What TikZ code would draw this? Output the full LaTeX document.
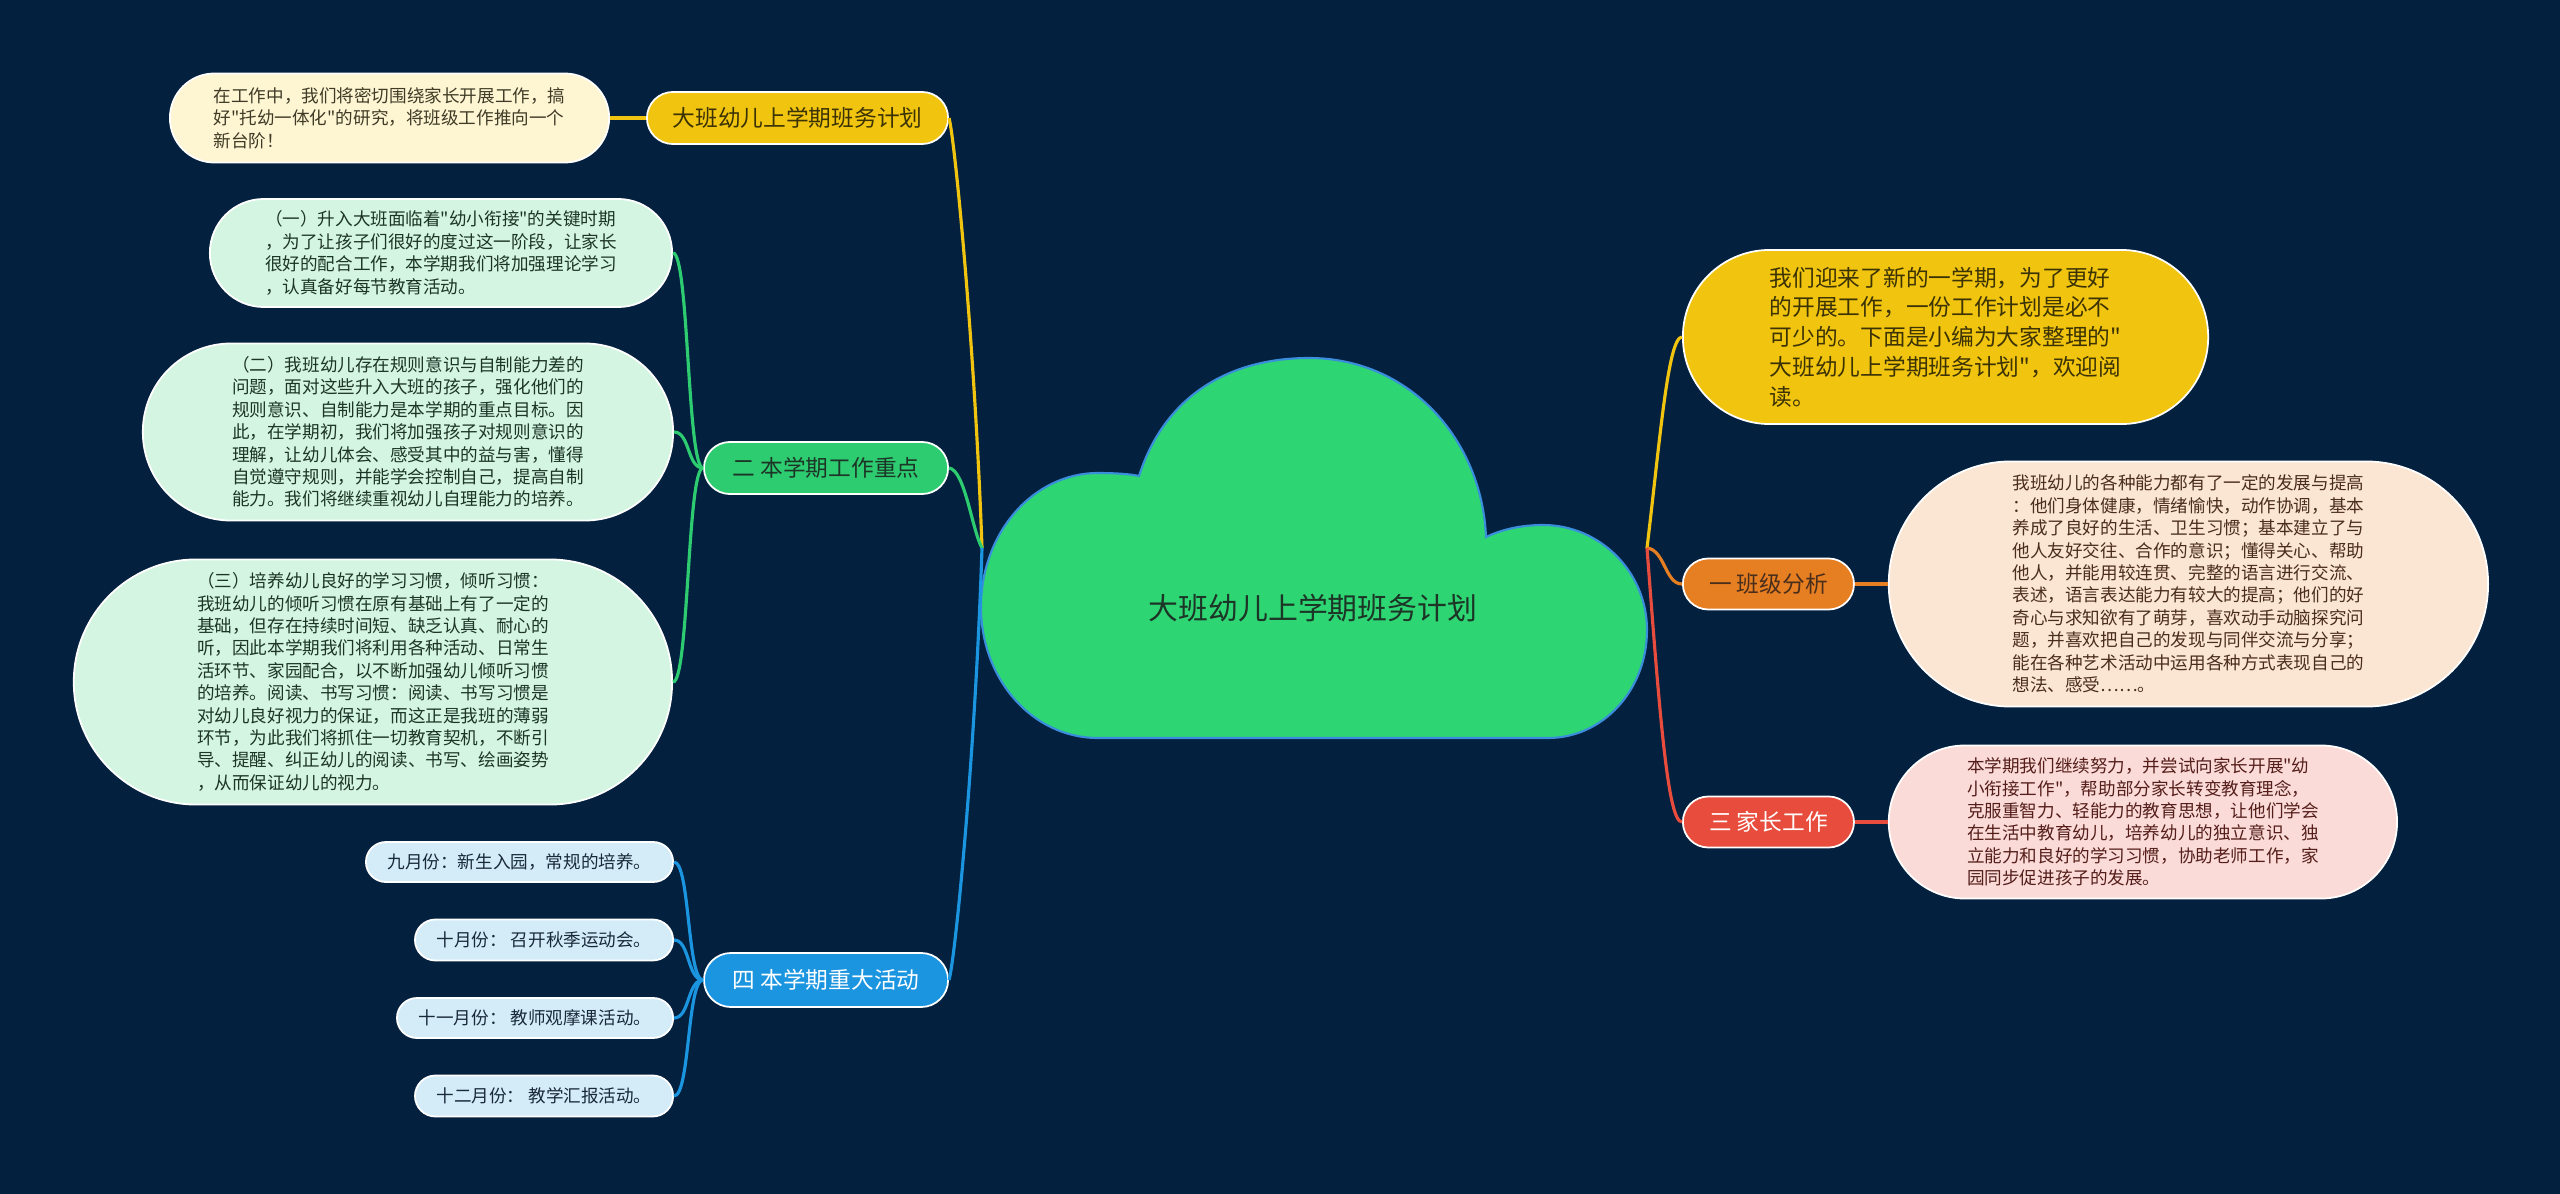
\documentclass[tikz,border=0pt]{standalone}
\usepackage{fontspec}
\newfontfamily\zhfont{Noto Sans CJK SC}
\usetikzlibrary{positioning}
\definecolor{bgNavy}{HTML}{03203F}
\definecolor{mmYellow}{HTML}{F1C40F}
\definecolor{mmGreen}{HTML}{2ECC71}
\definecolor{mmBlue}{HTML}{1B95E0}
\definecolor{mmOrange}{HTML}{E67E22}
\definecolor{mmRed}{HTML}{E74C3C}
\definecolor{cloudFill}{HTML}{2ED573}
\definecolor{cloudLine}{HTML}{3A8EDB}
\definecolor{lightYellow}{HTML}{FEF5D3}
\definecolor{lightGreen}{HTML}{D5F5E3}
\definecolor{lightBlue}{HTML}{D4ECF8}
\definecolor{lightOrange}{HTML}{FBE6D4}
\definecolor{lightRed}{HTML}{FADBD8}
\definecolor{inkYellow}{HTML}{3C3305}
\definecolor{inkGreen}{HTML}{1C3526}
\definecolor{inkBlue}{HTML}{18293A}
\definecolor{inkOrange}{HTML}{4A2E1C}
\definecolor{inkRed}{HTML}{551E1A}
\definecolor{inkCream}{HTML}{3F3B26}

\begin{document}
\begin{tikzpicture}[x=0.01cm, y=-0.01cm, node distance=0.33cm,
    pill/.style 2 args={rectangle, draw=white, line width=0.5pt, inner sep=0pt,
      minimum width=#1, minimum height=#2, rounded corners=#2*0.499},
    topic/.style={font=\zhfont\fontsize{6.46}{8.48}\selectfont},
    leaf/.style={align=left, font=\zhfont\fontsize{5}{6.37}\selectfont},
    link/.style={line width=0.9pt}]
    \fill[bgNavy] (0,0) rectangle (2560,1194);
    \useasboundingbox (0,0) rectangle (2560,1194);

    % central cloud
    \filldraw[fill=cloudFill, draw=cloudLine, line width=0.6pt]
      (1098,738) .. controls (1033,738) and (981,680) .. (981,607)
      .. controls (981,533) and (1033,473) .. (1098,473)
      .. controls (1115,473) and (1130,474) .. (1139,476)
      .. controls (1165,395) and (1230,358) .. (1309,358)
      .. controls (1410,358) and (1482,440) .. (1486,537)
      .. controls (1503,529) and (1522,525) .. (1543,525)
      .. controls (1600,525) and (1647,572) .. (1647,630)
      .. controls (1647,690) and (1603,738) .. (1548,738) -- cycle;
    \node[font=\zhfont\fontsize{8.5}{10}\selectfont, text=inkGreen] (root) at (1313,608)
      {大班幼儿上学期班务计划};
    \coordinate (jl) at (982,548);
    \coordinate (jr) at (1647,548);

    % right side
    \node[pill={5.25cm}{1.74cm}, topic, align=left, fill=mmYellow, text=inkYellow, anchor=west]
      (intro) at (1682,337)
      {我们迎来了新的一学期，为了更好\\的开展工作，一份工作计划是必不\\可少的。下面是小编为大家整理的"\\大班幼儿上学期班务计划"，欢迎阅\\读。};
    \node[pill={1.71cm}{0.51cm}, topic, fill=mmOrange, text=inkOrange, anchor=west]
      (analysis) at (1682,584) {一 班级分析};
    \node[pill={5.99cm}{2.45cm}, leaf, fill=lightOrange, text=inkOrange, right=of analysis]
      (analysisD)
      {我班幼儿的各种能力都有了一定的发展与提高\\：他们身体健康，情绪愉快，动作协调，基本\\养成了良好的生活、卫生习惯；基本建立了与\\他人友好交往、合作的意识；懂得关心、帮助\\他人，并能用较连贯、完整的语言进行交流、\\表述，语言表达能力有较大的提高；他们的好\\奇心与求知欲有了萌芽，喜欢动手动脑探究问\\题，并喜欢把自己的发现与同伴交流与分享；\\能在各种艺术活动中运用各种方式表现自己的\\想法、感受……。};
    \node[pill={1.71cm}{0.51cm}, topic, fill=mmRed, text=white, anchor=west]
      (parents) at (1682,822) {三 家长工作};
    \node[pill={5.08cm}{1.53cm}, leaf, fill=lightRed, text=inkRed, right=of parents]
      (parentsD)
      {本学期我们继续努力，并尝试向家长开展"幼\\小衔接工作"，帮助部分家长转变教育理念，\\克服重智力、轻能力的教育思想，让他们学会\\在生活中教育幼儿，培养幼儿的独立意识、独\\立能力和良好的学习习惯，协助老师工作，家\\园同步促进孩子的发展。};

    % left side
    \node[pill={3.01cm}{0.52cm}, topic, fill=mmYellow, text=inkYellow, anchor=east]
      (plan) at (949,118) {大班幼儿上学期班务计划};
    \node[pill={4.39cm}{0.89cm}, leaf, fill=lightYellow, text=inkCream, left=0.36cm of plan]
      (planD)
      {在工作中，我们将密切围绕家长开展工作，搞\\好"托幼一体化"的研究，将班级工作推向一个\\新台阶！};
    \node[pill={2.44cm}{0.52cm}, topic, fill=mmGreen, text=inkGreen, anchor=east]
      (focus) at (949,468) {二 本学期工作重点};
    \node[pill={4.62cm}{1.08cm}, leaf, fill=lightGreen, text=inkGreen, anchor=east]
      (focusA) at (673,253)
      {（一）升入大班面临着"幼小衔接"的关键时期\\，为了让孩子们很好的度过这一阶段，让家长\\很好的配合工作，本学期我们将加强理论学习\\，认真备好每节教育活动。};
    \node[pill={5.30cm}{1.77cm}, leaf, fill=lightGreen, text=inkGreen, anchor=east]
      (focusB) at (674,432)
      {（二）我班幼儿存在规则意识与自制能力差的\\问题，面对这些升入大班的孩子，强化他们的\\规则意识、自制能力是本学期的重点目标。因\\此，在学期初，我们将加强孩子对规则意识的\\理解，让幼儿体会、感受其中的益与害，懂得\\自觉遵守规则，并能学会控制自己，提高自制\\能力。我们将继续重视幼儿自理能力的培养。};
    \node[pill={5.98cm}{2.45cm}, leaf, fill=lightGreen, text=inkGreen, anchor=east]
      (focusC) at (673,682)
      {（三）培养幼儿良好的学习习惯，倾听习惯：\\我班幼儿的倾听习惯在原有基础上有了一定的\\基础，但存在持续时间短、缺乏认真、耐心的\\听，因此本学期我们将利用各种活动、日常生\\活环节、家园配合，以不断加强幼儿倾听习惯\\的培养。阅读、书写习惯：阅读、书写习惯是\\对幼儿良好视力的保证，而这正是我班的薄弱\\环节，为此我们将抓住一切教育契机，不断引\\导、提醒、纠正幼儿的阅读、书写、绘画姿势\\，从而保证幼儿的视力。};
    \node[pill={2.44cm}{0.54cm}, topic, fill=mmBlue, text=white, anchor=east]
      (events) at (949,980) {四 本学期重大活动};
    \node[pill={3.07cm}{0.40cm}, leaf, fill=lightBlue, text=inkBlue, anchor=east]
      (sep) at (674,862) {九月份：新生入园，常规的培养。};
    \node[pill={2.58cm}{0.41cm}, leaf, fill=lightBlue, text=inkBlue, anchor=east]
      (oct) at (674,940) {十月份： 召开秋季运动会。};
    \node[pill={2.76cm}{0.40cm}, leaf, fill=lightBlue, text=inkBlue, anchor=east]
      (nov) at (674,1018) {十一月份： 教师观摩课活动。};
    \node[pill={2.58cm}{0.41cm}, leaf, fill=lightBlue, text=inkBlue, anchor=east]
      (dec) at (674,1096) {十二月份： 教学汇报活动。};

    % branches from the cloud
    \draw[link, mmYellow] (jl) .. controls (975,350) and (955,140) .. (plan.east);
    \draw[link, mmGreen] (jl) .. controls (972,530) and (965,470) .. (focus.east);
    \draw[link, mmBlue] (jl) .. controls (975,760) and (955,960) .. (events.east);
    \draw[link, mmYellow] (jr) .. controls (1660,440) and (1668,337) .. (intro.west);
    \draw[link, mmOrange] (jr) .. controls (1665,550) and (1665,584) .. (analysis.west);
    \draw[link, mmRed] (jr) .. controls (1660,720) and (1668,822) .. (parents.west);

    % leaves
    \draw[link, mmYellow] (plan.west) -- (planD.east);
    \draw[link, mmOrange] (analysis.east) -- (analysisD.west);
    \draw[link, mmRed] (parents.east) -- (parentsD.west);
    \draw[link, mmGreen] (focus.west) .. controls +(-16,0) and +(16,0) .. (focusA.east);
    \draw[link, mmGreen] (focus.west) .. controls +(-16,0) and +(16,0) .. (focusB.east);
    \draw[link, mmGreen] (focus.west) .. controls +(-16,0) and +(16,0) .. (focusC.east);
    \draw[link, mmBlue] (events.west) .. controls +(-16,0) and +(16,0) .. (sep.east);
    \draw[link, mmBlue] (events.west) .. controls +(-16,0) and +(16,0) .. (oct.east);
    \draw[link, mmBlue] (events.west) .. controls +(-16,0) and +(16,0) .. (nov.east);
    \draw[link, mmBlue] (events.west) .. controls +(-16,0) and +(16,0) .. (dec.east);
\end{tikzpicture}
\end{document}
